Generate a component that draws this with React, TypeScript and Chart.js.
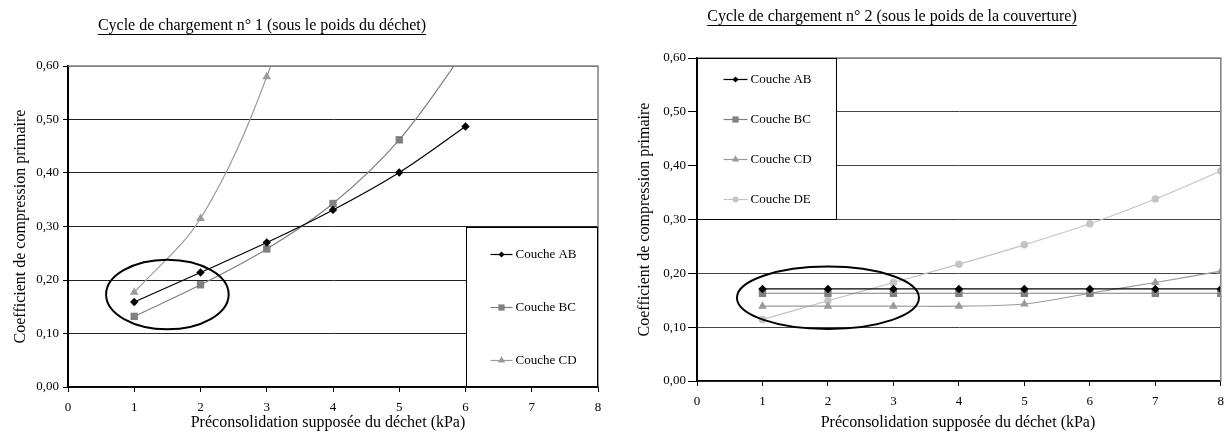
import { useEffect, useRef } from 'react';
import { Chart, registerables } from 'chart.js';

Chart.register(...registerables);

// ---------- data ----------
const xTickValues = [0, 1, 2, 3, 4, 5, 6, 7, 8];
const yTickValues = [0, 0.1, 0.2, 0.3, 0.4, 0.5, 0.6];

const leftTitle = 'Cycle de chargement n° 1 (sous le poids du déchet)';
const rightTitle = 'Cycle de chargement n° 2 (sous le poids de la couverture)';
const xAxisTitle = 'Préconsolidation supposée du déchet (kPa)';
const yAxisTitle = 'Coefficient de compression primaire';

const leftLabels = ['Couche AB', 'Couche BC', 'Couche CD'];
const leftXAB = [1, 2, 3, 4, 5, 6];
const leftAB = [0.159, 0.214, 0.27, 0.331, 0.401, 0.487];
const leftXBC = [1, 2, 3, 4, 5, 6];
const leftBC = [0.132, 0.191, 0.258, 0.343, 0.462, 0.63];
const leftXCD = [1, 2, 3, 4];
const leftCD = [0.177, 0.315, 0.58, 0.98];

const rightLabels = ['Couche AB', 'Couche BC', 'Couche CD', 'Couche DE'];
const rightX = [1, 2, 3, 4, 5, 6, 7, 8];
const rightAB = [0.171, 0.171, 0.171, 0.171, 0.171, 0.171, 0.171, 0.171];
const rightBC = [0.163, 0.163, 0.163, 0.163, 0.163, 0.163, 0.163, 0.163];
const rightCD = [0.139, 0.139, 0.139, 0.139, 0.143, 0.163, 0.183, 0.204];
const rightDE = [0.114, 0.149, 0.183, 0.217, 0.253, 0.292, 0.338, 0.39];

// ---------- styles ----------
const FONT = '"Liberation Serif", "Times New Roman", serif';
const STYLES = [
  { color: '#000000', point: 'rectRot', radius: 4.2 },
  { color: '#808080', point: 'rect', radius: 5.2 },
  { color: '#9a9a9a', point: 'triangle', radius: 5.0 },
  { color: '#c4c4c4', point: 'circle', radius: 3.8 },
];

function pts(xs: number[], ys: number[]) {
  return xs.map((x, i) => ({ x, y: ys[i] }));
}

function drawMarker(ctx: CanvasRenderingContext2D, style: string, x: number, y: number, r: number, color: string) {
  ctx.save();
  ctx.fillStyle = color;
  ctx.beginPath();
  if (style === 'rectRot') {
    const s = r * 0.9;
    ctx.moveTo(x, y - s);
    ctx.lineTo(x + s, y);
    ctx.lineTo(x, y + s);
    ctx.lineTo(x - s, y);
    ctx.closePath();
  } else if (style === 'rect') {
    const s = Math.SQRT1_2 * r;
    ctx.rect(x - s, y - s, 2 * s, 2 * s);
  } else if (style === 'triangle') {
    ctx.moveTo(x, y - r);
    ctx.lineTo(x + Math.cos(Math.PI / 6) * r, y + r * 0.5);
    ctx.lineTo(x - Math.cos(Math.PI / 6) * r, y + r * 0.5);
    ctx.closePath();
  } else {
    ctx.arc(x, y, r, 0, Math.PI * 2);
  }
  ctx.fill();
  ctx.restore();
}

type Decor = {
  title: string;
  titleX: number;
  titleY: number;
  yTitleX: number;
  xTitleX: number;
  xTitleY: number;
  legendLabels: string[];
  legendBox: { x0: number; x1: number; y0: number; y1: number };
  legendLine: [number, number];
  legendText: number;
  ellipse: { cx: number; cy: number; rx: number; ry: number };
  gridColor: string;
};

function decorPlugin(d: Decor) {
  return {
    id: 'decor',
    afterDatasetsDraw(chart: any) {
      const ctx: CanvasRenderingContext2D = chart.ctx;
      const xs = chart.scales.x;
      const ys = chart.scales.y;
      const a = chart.chartArea;
      ctx.save();
      // top & right plot border
      ctx.strokeStyle = '#808080';
      ctx.lineWidth = 1.5;
      ctx.beginPath();
      ctx.moveTo(a.left, a.top);
      ctx.lineTo(a.right, a.top);
      ctx.lineTo(a.right, a.bottom);
      ctx.stroke();

      // ellipse
      const e = d.ellipse;
      const cx = xs.getPixelForValue(e.cx);
      const cy = ys.getPixelForValue(e.cy);
      const rx = Math.abs(xs.getPixelForValue(e.cx + e.rx) - cx);
      const ry = Math.abs(ys.getPixelForValue(e.cy + e.ry) - cy);
      ctx.strokeStyle = '#000';
      ctx.lineWidth = 2;
      ctx.beginPath();
      ctx.ellipse(cx, cy, rx, ry, 0, 0, Math.PI * 2);
      ctx.stroke();

      // legend box
      const b = d.legendBox;
      const bx0 = Math.round(xs.getPixelForValue(b.x0)) + 0.5;
      const bx1 = Math.round(xs.getPixelForValue(b.x1)) - 0.5;
      const by0 = Math.round(ys.getPixelForValue(b.y1)) + 0.5;
      const by1 = Math.round(ys.getPixelForValue(b.y0)) - 0.5;
      ctx.fillStyle = '#fff';
      ctx.fillRect(bx0, by0, bx1 - bx0, by1 - by0);
      ctx.strokeStyle = '#000';
      ctx.lineWidth = 1;
      ctx.strokeRect(bx0, by0, bx1 - bx0, by1 - by0);
      const n = d.legendLabels.length;
      const h = by1 - by0;
      ctx.font = `13px ${FONT}`;
      ctx.textAlign = 'left';
      ctx.textBaseline = 'middle';
      d.legendLabels.forEach((lab, i) => {
        const st = STYLES[i];
        const y = Math.round(by0 + ((i + 0.5) * h) / n) + 0.5;
        ctx.strokeStyle = st.color;
        ctx.lineWidth = 1.2;
        ctx.beginPath();
        ctx.moveTo(bx0 + d.legendLine[0], y);
        ctx.lineTo(bx0 + d.legendLine[1], y);
        ctx.stroke();
        drawMarker(ctx, st.point, bx0 + (d.legendLine[0] + d.legendLine[1]) / 2, y, st.radius - 0.8, st.color);
        ctx.fillStyle = '#000';
        ctx.fillText(lab, bx0 + d.legendText, y);
      });
      ctx.restore();
    },
    afterDraw(chart: any) {
      const ctx: CanvasRenderingContext2D = chart.ctx;
      const a = chart.chartArea;
      ctx.save();
      ctx.fillStyle = '#000';
      ctx.strokeStyle = '#000';
      // chart title, underlined
      ctx.font = `16px ${FONT}`;
      ctx.textAlign = 'center';
      ctx.textBaseline = 'middle';
      ctx.fillText(d.title, d.titleX, d.titleY);
      const w = ctx.measureText(d.title).width;
      ctx.lineWidth = 1;
      ctx.beginPath();
      ctx.moveTo(d.titleX - w / 2, Math.round(d.titleY + 8) + 0.5);
      ctx.lineTo(d.titleX + w / 2, Math.round(d.titleY + 8) + 0.5);
      ctx.stroke();
      // x axis title
      ctx.fillText(xAxisTitle, d.xTitleX, d.xTitleY);
      // y axis title
      ctx.translate(d.yTitleX, (a.top + a.bottom) / 2);
      ctx.rotate(-Math.PI / 2);
      ctx.fillText(yAxisTitle, 0, 0);
      ctx.restore();
    },
  };
}

function buildConfig(series: { data: { x: number; y: number }[]; label: string }[], d: Decor, geo: any): any {
  return {
    type: 'line',
    data: {
      datasets: series.map((s, i) => ({
        label: s.label,
        data: s.data,
        borderColor: STYLES[i].color,
        backgroundColor: STYLES[i].color,
        pointBackgroundColor: STYLES[i].color,
        pointBorderColor: STYLES[i].color,
        pointBorderWidth: 0,
        pointStyle: STYLES[i].point,
        pointRadius: STYLES[i].radius,
        borderWidth: 1.2,
        tension: 0.35,
        fill: false,
      })),
    },
    options: {
      responsive: false,
      animation: false,
      devicePixelRatio: 1,
      layout: { padding: { top: geo.top, right: geo.right, left: 0, bottom: 0 } },
      plugins: { legend: { display: false }, tooltip: { enabled: false }, title: { display: false } },
      scales: {
        x: {
          type: 'linear',
          min: 0,
          max: 8,
          afterBuildTicks: (scale: any) => {
            scale.ticks = xTickValues.map((v) => ({ value: v }));
          },
          afterFit: (scale: any) => {
            scale.height = geo.xHeight;
            scale.paddingLeft = 0;
            scale.paddingRight = 0;
          },
          grid: { drawOnChartArea: false, drawTicks: true, tickLength: 5, color: '#000', tickColor: '#000' },
          border: { display: true, color: '#000', width: 1.5 },
          ticks: { color: '#000', font: { family: FONT, size: 13 }, padding: geo.xPad, maxRotation: 0, autoSkip: false },
        },
        y: {
          type: 'linear',
          min: 0,
          max: 0.6,
          afterBuildTicks: (scale: any) => {
            scale.ticks = yTickValues.map((v) => ({ value: v }));
          },
          afterFit: (scale: any) => {
            scale.width = geo.yWidth;
            scale.paddingTop = 0;
            scale.paddingBottom = 0;
          },
          grid: {
            drawTicks: true,
            tickLength: geo.yTick,
            color: (c: any) => (c.tick && Math.abs(c.tick.value - 0.6) < 1e-6 ? '#808080' : d.gridColor),
            tickColor: '#000',
            lineWidth: 1,
          },
          border: { display: true, color: '#000', width: 2 },
          ticks: {
            color: '#000',
            font: { family: FONT, size: 13 },
            padding: geo.yPad,
            autoSkip: false,
            callback: (v: number) => v.toFixed(2).replace('.', ','),
          },
        },
      },
    },
    plugins: [decorPlugin(d)],
  };
}

function LeftChart() {
  const ref = useRef<HTMLCanvasElement>(null);
  useEffect(() => {
    const series = [
      { label: leftLabels[0], data: pts(leftXAB, leftAB) },
      { label: leftLabels[1], data: pts(leftXBC, leftBC) },
      { label: leftLabels[2], data: pts(leftXCD, leftCD) },
    ];
    const d: Decor = {
      title: leftTitle,
      titleX: 262,
      titleY: 26,
      yTitleX: 21,
      xTitleX: 328,
      xTitleY: 423,
      legendLabels: leftLabels,
      legendBox: { x0: 6, x1: 8, y0: 0, y1: 0.3 },
      legendLine: [24, 46],
      legendText: 49,
      ellipse: { cx: 1.5, cy: 0.173, rx: 0.925, ry: 0.065 },
      gridColor: '#222',
    };
    const chart = new Chart(ref.current as HTMLCanvasElement, buildConfig(series, d, { top: 66, right: 15, xHeight: 45, yWidth: 68, yTick: 5, yPad: 4, xPad: 8 }));
    return () => chart.destroy();
  }, []);
  return <canvas ref={ref} width={613} height={432} style={{ width: 613, height: 432, display: 'block' }} />;
}

function RightChart() {
  const ref = useRef<HTMLCanvasElement>(null);
  useEffect(() => {
    const series = [
      { label: rightLabels[0], data: pts(rightX, rightAB) },
      { label: rightLabels[1], data: pts(rightX, rightBC) },
      { label: rightLabels[2], data: pts(rightX, rightCD) },
      { label: rightLabels[3], data: pts(rightX, rightDE) },
    ];
    const d: Decor = {
      title: rightTitle,
      titleX: 279,
      titleY: 17,
      yTitleX: 32,
      xTitleX: 345,
      xTitleY: 423,
      legendLabels: rightLabels,
      legendBox: { x0: 0, x1: 2.14, y0: 0.3, y1: 0.6 },
      legendLine: [26, 50],
      legendText: 53,
      ellipse: { cx: 2.0, cy: 0.1545, rx: 1.39, ry: 0.058 },
      gridColor: '#444',
    };
    const chart = new Chart(ref.current as HTMLCanvasElement, buildConfig(series, d, { top: 58, right: 3, xHeight: 51, yWidth: 84, yTick: 9, yPad: 2, xPad: 8 }));
    return () => chart.destroy();
  }, []);
  return <canvas ref={ref} width={613} height={432} style={{ width: 613, height: 432, display: 'block' }} />;
}

export default function App() {
  return (
    <div style={{ position: 'absolute', left: 0, top: 0, width: 1226, height: 432, background: '#fff', overflow: 'hidden' }}>
      <div style={{ position: 'absolute', left: 0, top: 0, width: 613, height: 432 }}>
        <LeftChart />
      </div>
      <div style={{ position: 'absolute', left: 613, top: 0, width: 613, height: 432 }}>
        <RightChart />
      </div>
    </div>
  );
}
